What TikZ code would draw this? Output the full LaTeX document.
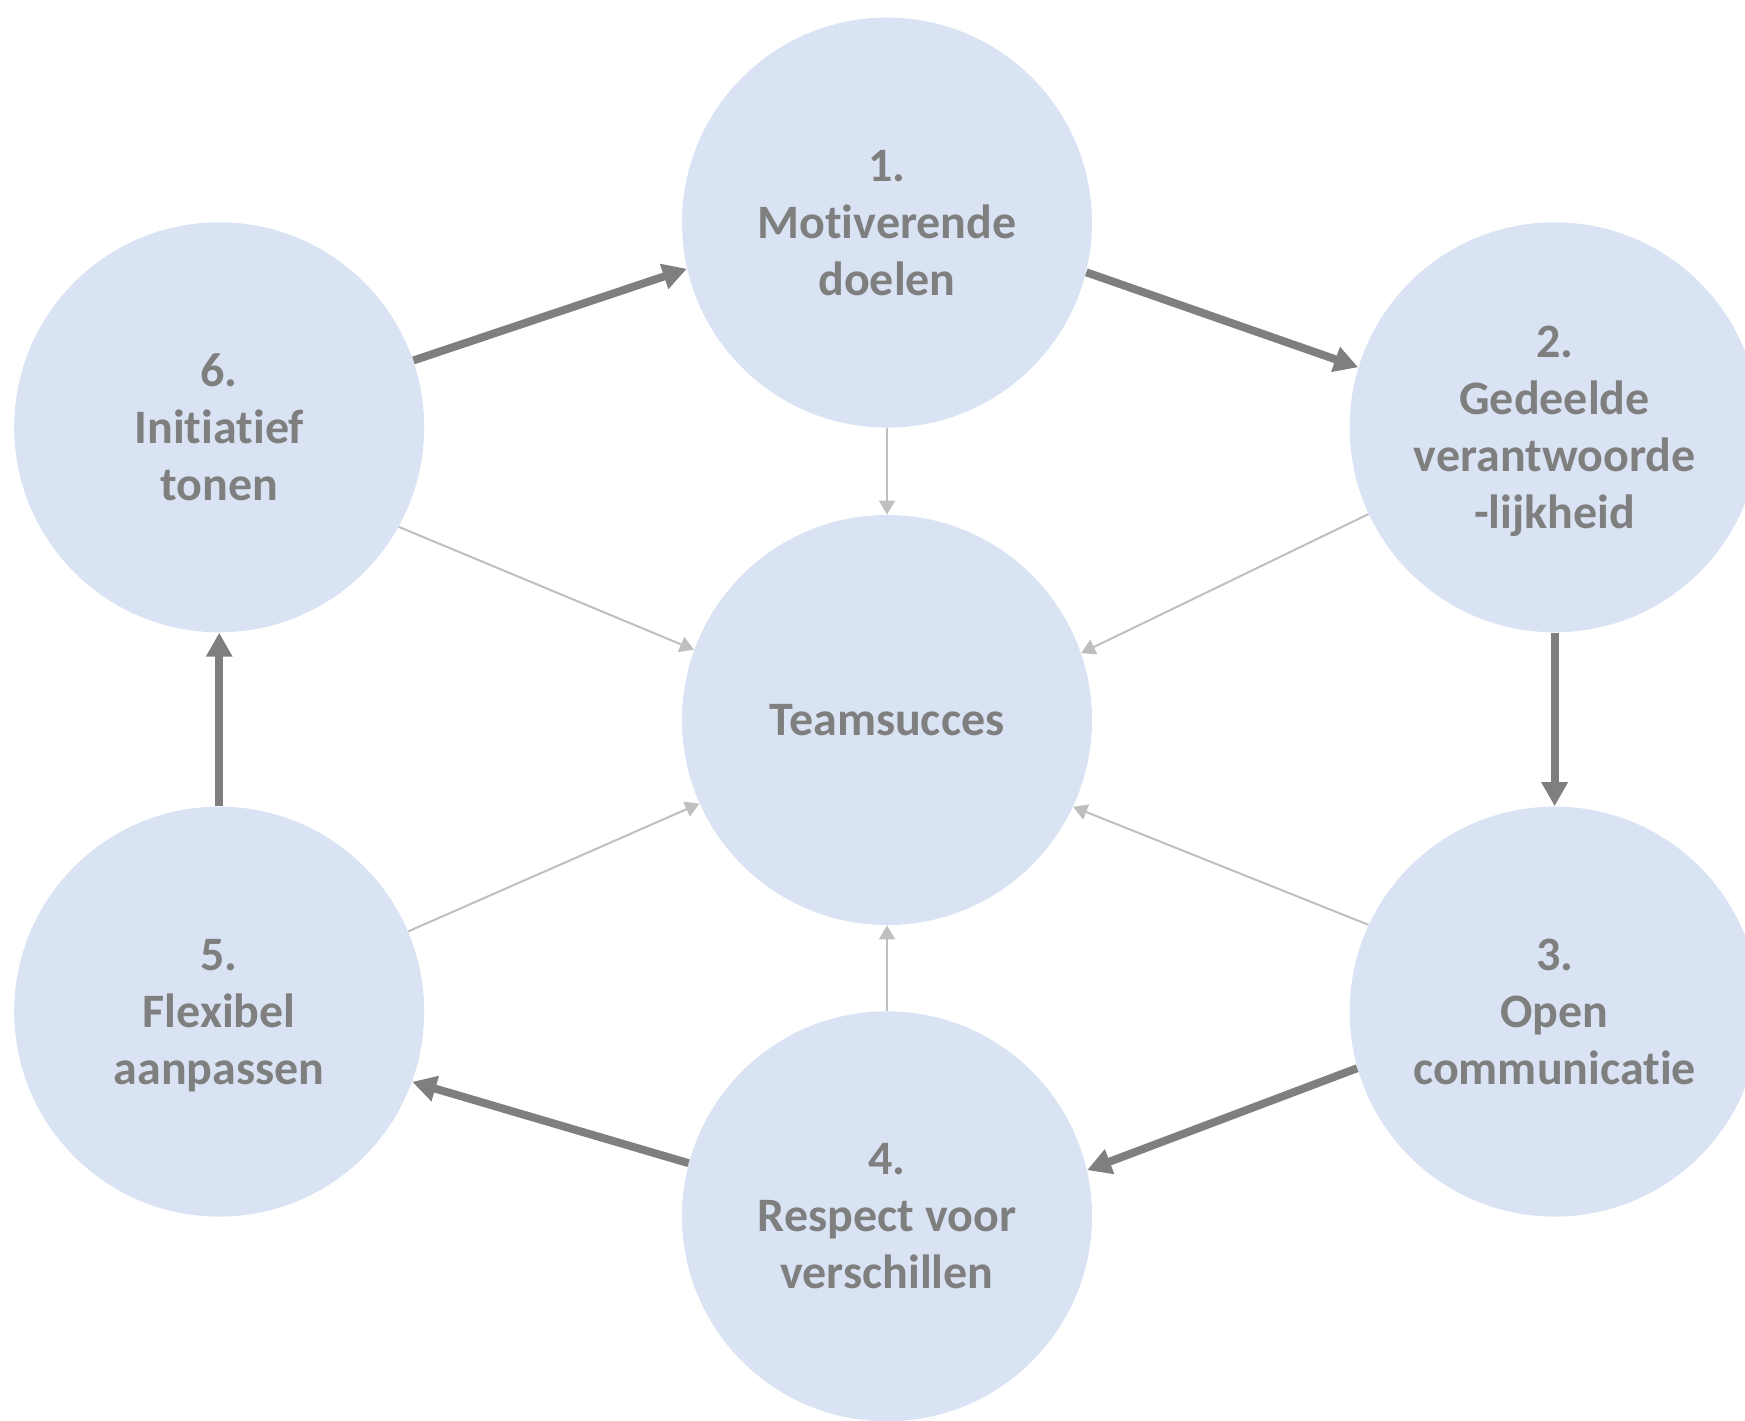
\documentclass[tikz,border=0pt]{standalone}
\usepackage{fontspec}
\setmainfont[Ligatures=NoCommon]{Carlito}
\usetikzlibrary{arrows.meta}
\definecolor{cfill}{HTML}{DAE3F3}
\definecolor{ctext}{HTML}{7F7F7F}
\definecolor{cthick}{HTML}{7F7F7F}
\definecolor{cthin}{HTML}{BFBFBF}
\tikzset{
  bubble/.style={circle, fill=cfill, draw=none, minimum size=205pt, inner sep=0pt,
    text=ctext, align=center, text depth=0pt, font=\fontsize{24pt}{28.5pt}\selectfont\bfseries},
  flow/.style={draw=cthick, line width=4pt, -{Triangle[length=12pt,width=12.5pt]}, fill=cthick},
  feed/.style={draw=cthin, line width=1pt, -{Triangle[length=7pt,width=8pt]}, fill=cthin},
}
\begin{document}
\begin{tikzpicture}[x=0.5pt,y=-0.5pt]
\useasboundingbox (0,0) rectangle (1745,1420);
\clip (0,0) rectangle (1745,1420);
\node[bubble] (c0) at (887,720) {Teamsucces};
\node[bubble] (c1) at (887,222.6) {1.\\Motiverende\\doelen};
\node[bubble] (c2) at (1554.6,427.3) {2.\\Gedeelde\\verantwoorde\\-lijkheid};
\node[bubble] (c3) at (1554.6,1011.6) {3.\\Open\\communicatie};
\node[bubble] (c4) at (887,1216.3) {4.\\Respect voor\\verschillen};
\node[bubble] (c5) at (219.2,1011.6) {5.\\Flexibel\\aanpassen};
\node[bubble] (c6) at (219.2,427.3) {6.\\Initiatief\\tonen};
% cycle arrows
\draw[flow] (c6.19.7) -- (c1.193.1);
\draw[flow] (c1.346.4) -- (c2.163.4);
\draw[flow] (c2.270) -- (c3.90);
\draw[flow] (c3.196.8) -- (c4.13.7);
\draw[flow] (c4.165.8) -- (c5.340.6);
\draw[flow] (c5.90) -- (c6.270);
% feeds to center
\draw[feed] (c1.270) -- (c0.90);
\draw[feed] (c2.205.9) -- (c0.19.8);
\draw[feed] (c3.155) -- (c0.335.1);
\draw[feed] (c4.90) -- (c0.270);
\draw[feed] (c5.23) -- (c0.204.9);
\draw[feed] (c6.331.1) -- (c0.160.2);
\end{tikzpicture}
\end{document}
